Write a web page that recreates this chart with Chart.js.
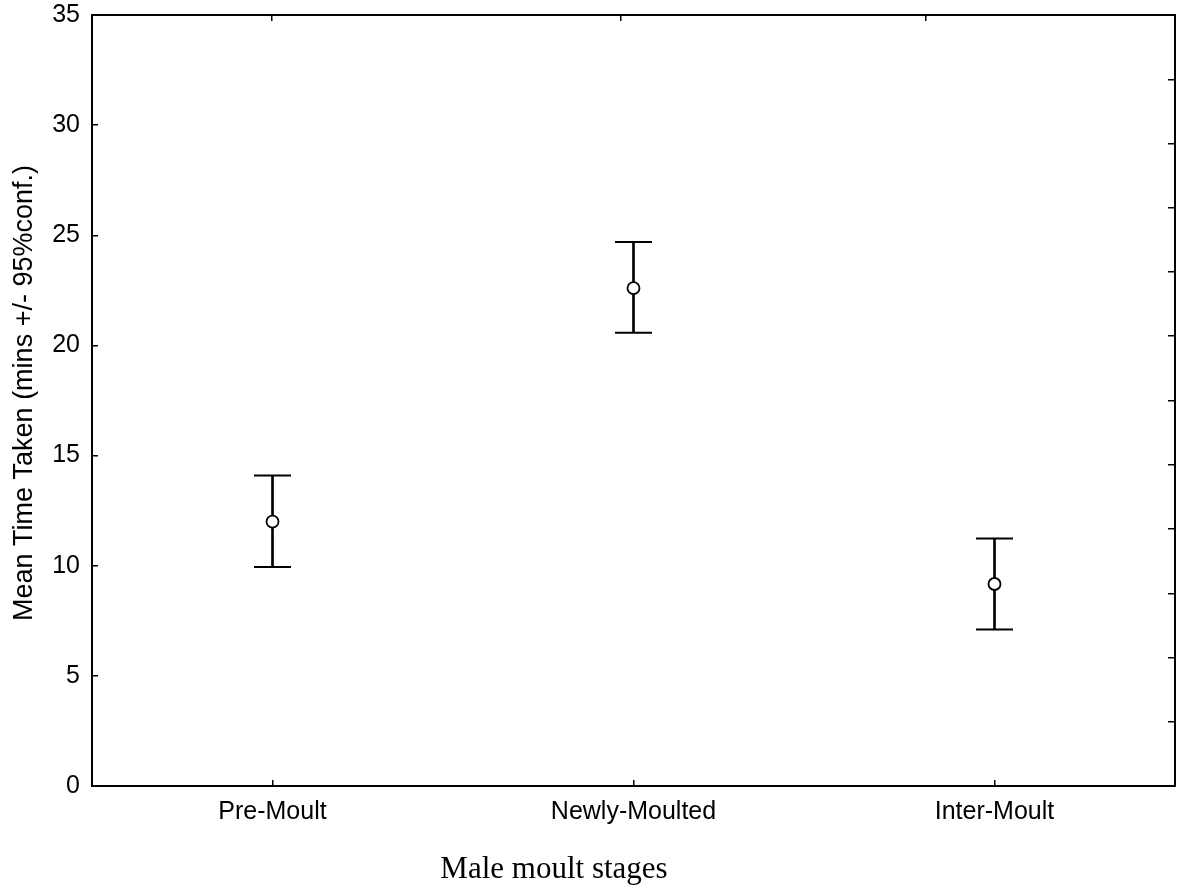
<!DOCTYPE html>
<html>
<head>
<meta charset="utf-8">
<script src="https://cdn.jsdelivr.net/npm/chart.js@4.4.1/dist/chart.umd.min.js"></script>
<style>
  html, body { margin: 0; padding: 0; background: #ffffff; }
  #wrap { width: 1181px; height: 890px; }
</style>
</head>
<body>
<div id="wrap"><canvas id="c" width="1181" height="890"></canvas></div>
<script>
// ---- data ----
const categories = ['Pre-Moult', 'Newly-Moulted', 'Inter-Moult'];
const means      = [12.00, 22.60, 9.17];
const upper95    = [14.09, 24.70, 11.23];
const lower95    = [9.94, 20.58, 7.11];
const yTicks     = [0, 5, 10, 15, 20, 25, 30, 35];
const rightTicks = [0, 1, 2, 3, 4, 5, 6, 7, 8, 9, 10, 11, 12];
const topTicks   = [0.166, 0.488, 0.770];
const xTitle = 'Male moult stages';
const yTitle = 'Mean Time Taken (mins +/- 95%conf.)';

const ranges = categories.map((c, i) => [lower95[i], upper95[i]]);

const titlePlugin = {
  id: 'titles',
  afterDraw(chart) {
    const ctx = chart.ctx;
    ctx.save();
    ctx.fillStyle = '#000';
    ctx.translate(32, 393);
    ctx.rotate(-Math.PI / 2);
    ctx.font = '27px "Liberation Sans", Arial, sans-serif';
    ctx.textAlign = 'center';
    ctx.textBaseline = 'alphabetic';
    ctx.fillText(yTitle, 0, 0);
    ctx.restore();
    ctx.save();
    ctx.fillStyle = '#000';
    ctx.font = '31px "Liberation Serif", "Times New Roman", serif';
    ctx.textAlign = 'center';
    ctx.textBaseline = 'alphabetic';
    ctx.fillText(xTitle, 554, 878);
    ctx.restore();
  }
};

function noPad(s) { s.paddingTop = 0; s.paddingBottom = 0; s.paddingLeft = 0; s.paddingRight = 0; }

new Chart(document.getElementById('c'), {
  type: 'bar',
  data: {
    labels: categories,
    datasets: [
      { type: 'bar', data: ranges, backgroundColor: '#000', borderWidth: 0, barThickness: 2, order: 3 },
      { type: 'line', data: upper95, showLine: false, pointStyle: 'line', pointRadius: 18.5,
        pointBorderColor: '#000', pointBorderWidth: 2, order: 2 },
      { type: 'line', data: lower95, showLine: false, pointStyle: 'line', pointRadius: 18.5,
        pointBorderColor: '#000', pointBorderWidth: 2, order: 2 },
      { type: 'line', data: means, showLine: false, pointStyle: 'circle', pointRadius: 6,
        pointBackgroundColor: '#fff', pointBorderColor: '#000', pointBorderWidth: 1.8, order: 1 }
    ]
  },
  options: {
    responsive: false,
    animation: false,
    devicePixelRatio: 1,
    layout: { padding: 0, autoPadding: false },
    plugins: { legend: { display: false }, tooltip: { enabled: false }, title: { display: false } },
    scales: {
      x: {
        type: 'category', position: 'bottom', offset: true,
        grid: { display: true, drawOnChartArea: false, offset: false, tickLength: -6, color: '#000', lineWidth: 1.5 },
        border: { display: true, color: '#000', width: 2 },
        ticks: { color: '#000', font: { family: '"Liberation Sans", Arial, sans-serif', size: 25 }, padding: 17, maxRotation: 0, autoSkip: false },
        afterFit(s) { s.height = 104; noPad(s); }
      },
      xTop: {
        type: 'linear', position: 'top', min: 0, max: 1, offset: false,
        afterBuildTicks(s) { s.ticks = topTicks.map(v => ({ value: v })); },
        grid: { display: true, drawOnChartArea: false, offset: false, tickLength: -6, color: '#000', lineWidth: 1.5 },
        border: { display: true, color: '#000', width: 2 },
        ticks: { display: false, autoSkip: false },
        afterFit(s) { s.height = 15; noPad(s); }
      },
      y: {
        type: 'linear', position: 'left', min: 0, max: 35,
        afterBuildTicks(s) { s.ticks = yTicks.map(v => ({ value: v })); },
        grid: { display: true, drawOnChartArea: false, tickLength: -6, color: '#000', lineWidth: 1.5 },
        border: { display: true, color: '#000', width: 2 },
        ticks: { color: '#000', font: { family: '"Liberation Sans", Arial, sans-serif', size: 25 }, padding: 18 },
        afterFit(s) { s.width = 92; noPad(s); }
      },
      yRight: {
        type: 'linear', position: 'right', min: 0, max: 12,
        afterBuildTicks(s) { s.ticks = rightTicks.map(v => ({ value: v })); },
        grid: { display: true, drawOnChartArea: false, tickLength: -7, color: '#000', lineWidth: 1.5 },
        border: { display: true, color: '#000', width: 2 },
        ticks: { display: false },
        afterFit(s) { s.width = 6; noPad(s); }
      }
    }
  },
  plugins: [titlePlugin]
});
</script>
</body>
</html>
